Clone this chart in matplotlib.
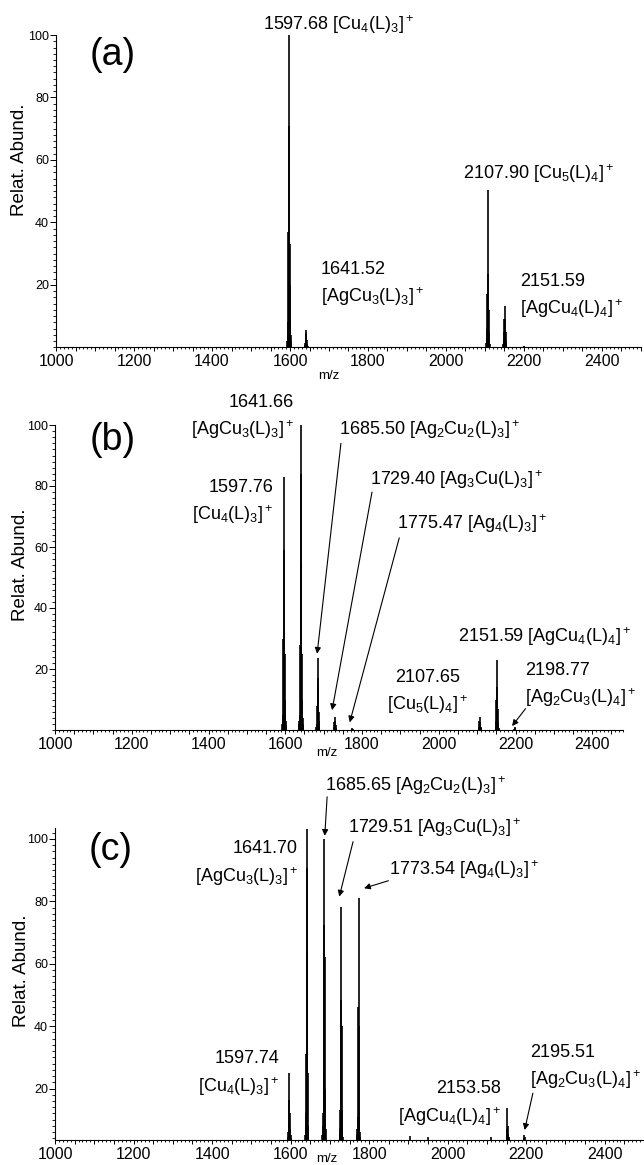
import matplotlib
matplotlib.use('Agg')
import matplotlib.pyplot as plt
from matplotlib.ticker import MultipleLocator, FixedLocator, FuncFormatter

plt.rcParams['font.family'] = ['Liberation Sans', 'DejaVu Sans']
plt.rcParams['mathtext.fontset'] = 'custom'
plt.rcParams['mathtext.rm'] = 'Liberation Sans'
plt.rcParams['mathtext.it'] = 'Liberation Sans:italic'
plt.rcParams['mathtext.bf'] = 'Liberation Sans:bold'

# ---------------- data (isotope sticks, m/z and relative abundance) ----------------
a_mz = [1593, 1594, 1595, 1596, 1597, 1598, 1599, 1600, 1601, 1602, 1603,
        1638, 1639, 1640, 1641, 1642, 1643, 1644, 1645,
        2103, 2104, 2105, 2106, 2107, 2108, 2109, 2110, 2111, 2112,
        2147, 2148, 2149, 2150, 2151, 2152, 2153, 2154, 2155,
        2199, 2200]
a_int = [2, 4, 8, 37, 100, 71, 33, 20, 8, 4, 2,
         0.8, 1.5, 3, 5.5, 4.5, 2.5, 1.2, 0.6,
         1.5, 3, 6, 17, 50.5, 23.5, 12, 5, 2.5, 1,
         1, 2, 5, 9, 13.4, 9, 5, 2, 1,
         0.4, 0.5]

b_mz = [1592, 1593, 1594, 1595, 1596, 1597, 1598, 1599, 1600, 1601, 1602,
        1636, 1637, 1638, 1639, 1640, 1641, 1642, 1643, 1644, 1645, 1646,
        1681, 1682, 1683, 1684, 1685, 1686, 1687, 1688, 1689,
        1726, 1727, 1728, 1729, 1730, 1731, 1732,
        1774, 1775, 1776,
        2104, 2105, 2106, 2107, 2108, 2109, 2110,
        2148, 2149, 2150, 2151, 2152, 2153, 2154, 2155, 2156,
        2197, 2198, 2199]
b_int = [2, 3, 5, 30, 83, 59, 25, 10, 5, 3, 1.5,
         2, 3, 5, 28, 84, 100, 55, 25, 10, 4, 2,
         1, 2, 8, 17, 23.5, 14, 6, 3, 1,
         0.6, 1, 2.5, 4.2, 3, 1.5, 0.6,
         0.3, 0.6, 0.4,
         0.5, 1, 3, 4.2, 2.5, 1, 0.5,
         1, 3, 10, 23, 14, 7, 3, 1.5, 0.7,
         0.3, 0.9, 0.5]

c_mz = [1593, 1594, 1595, 1596, 1597, 1598, 1599, 1600, 1601,
        1637, 1638, 1639, 1640, 1641, 1642, 1643, 1644, 1645,
        1681, 1682, 1683, 1684, 1685, 1686, 1687, 1688, 1689,
        1725, 1726, 1727, 1728, 1729, 1730, 1731, 1732, 1733,
        1769, 1770, 1771, 1772, 1773, 1774, 1775, 1776, 1777,
        1905, 1950, 2110,
        2150, 2151, 2152, 2153, 2154, 2155, 2156,
        2194, 2195, 2196]
c_int = [4.5, 6, 9, 16.3, 25, 12, 7, 5, 4,
         5, 8, 12, 31, 90.7, 103.3, 64, 25, 8,
         5, 8, 12, 25, 72.4, 100, 62, 20, 7,
         5, 7, 13, 48.4, 78.2, 40, 13, 6, 4.5,
         5, 7, 11, 46.2, 81, 40, 11, 6, 4.5,
         4.8, 4.6, 4.5,
         5, 7, 13.7, 8, 5.5, 4.5, 4,
         4, 5.2, 4.5]

x_tick_labels = ['1000', '1200', '1400', '1600', '1800', '2000', '2200', '2400']
y_tick_values = [20, 40, 60, 80, 100]

a_labels = [r'1597.68 [Cu$_4$(L)$_3$]$^+$',
            '1641.52\n' + r'[AgCu$_3$(L)$_3$]$^+$',
            r'2107.90 [Cu$_5$(L)$_4$]$^+$',
            '2151.59\n' + r'[AgCu$_4$(L)$_4$]$^+$']
b_labels = ['1641.66\n' + r'[AgCu$_3$(L)$_3$]$^+$',
            r'1685.50 [Ag$_2$Cu$_2$(L)$_3$]$^+$',
            r'1729.40 [Ag$_3$Cu(L)$_3$]$^+$',
            r'1775.47 [Ag$_4$(L)$_3$]$^+$',
            '1597.76\n' + r'[Cu$_4$(L)$_3$]$^+$',
            r'2151.59 [AgCu$_4$(L)$_4$]$^+$',
            '2107.65\n' + r'[Cu$_5$(L)$_4$]$^+$',
            '2198.77\n' + r'[Ag$_2$Cu$_3$(L)$_4$]$^+$']
c_labels = [r'1685.65 [Ag$_2$Cu$_2$(L)$_3$]$^+$',
            r'1729.51 [Ag$_3$Cu(L)$_3$]$^+$',
            r'1773.54 [Ag$_4$(L)$_3$]$^+$',
            '1641.70\n' + r'[AgCu$_3$(L)$_3$]$^+$',
            '1597.74\n' + r'[Cu$_4$(L)$_3$]$^+$',
            '2153.58\n' + r'[AgCu$_4$(L)$_4$]$^+$',
            '2195.51\n' + r'[Ag$_2$Cu$_3$(L)$_4$]$^+$']

W, H = 644, 1165
fig = plt.figure(figsize=(W / 100, H / 100), dpi=100)

ANN = 13
TICKX = 11.5
TICKY = 9


def fx(px):
    return px / W


def fy(py):
    return 1 - py / H


def make_axes(left, right, top, bottom, xlim, ylim):
    ax = fig.add_axes([fx(left), fy(bottom), fx(right) - fx(left), fy(top) - fy(bottom)])
    ax.set_xlim(*xlim)
    ax.set_ylim(*ylim)
    for s in ('top', 'right'):
        ax.spines[s].set_visible(False)
    for s in ('left', 'bottom'):
        ax.spines[s].set_linewidth(0.8)
    ax.xaxis.set_major_locator(MultipleLocator(50))
    ax.xaxis.set_minor_locator(MultipleLocator(10))
    ax.xaxis.set_major_formatter(FuncFormatter(
        lambda v, p: (str(int(round(v))) if str(int(round(v))) in x_tick_labels and abs(v - round(v)) < 1e-6 else '')))
    ax.yaxis.set_major_locator(FixedLocator(y_tick_values))
    ax.yaxis.set_minor_locator(MultipleLocator(2))
    ax.tick_params(axis='x', which='major', direction='out', length=3, width=0.7, pad=2, labelsize=TICKX)
    ax.tick_params(axis='x', which='minor', direction='out', length=1.5, width=0.6)
    ax.tick_params(axis='y', which='major', direction='out', length=4, width=0.7, pad=1, labelsize=TICKY)
    ax.tick_params(axis='y', which='minor', direction='out', length=2.5, width=0.6)
    return ax


def draw_sticks(ax, mz, inten, base):
    ax.vlines(mz, base, inten, colors='black', linewidth=1.2)


def arrow(ax, head, tail):
    ax.annotate('', xy=head, xytext=tail,
                arrowprops=dict(arrowstyle='-|>', color='black', lw=0.8,
                                mutation_scale=9, shrinkA=0, shrinkB=0),
                annotation_clip=False)


def ylab(ax, x, y):
    ax.set_ylabel('Relat. Abund.', fontsize=13.5, va='center')
    ax.yaxis.set_label_coords(x, y)


def xlab(ax, x, y):
    ax.set_xlabel('m/z', fontsize=9.5)
    ax.xaxis.set_label_coords(x, y)


# ---------------- panel (a) ----------------
axa = make_axes(56, 641, 35, 347.5, (1000, 2500), (0, 100))
draw_sticks(axa, a_mz, a_int, 0)
axa.text(1085, 93.5, '(a)', fontsize=27, ha='left', va='center')
axa.text(1531, 101.5, a_labels[0], fontsize=ANN, ha='left', va='baseline')
axa.text(1679, 14.4, a_labels[1], fontsize=ANN, ha='left', va='baseline', linespacing=1.45)
axa.text(2043, 54, a_labels[2], fontsize=ANN, ha='left', va='baseline')
axa.text(2191, 10.7, a_labels[3], fontsize=ANN, ha='left', va='baseline', linespacing=1.45)
ylab(axa, -0.062, 0.6)
xlab(axa, 0.467, -0.072)

# ---------------- panel (b) ----------------
axb = make_axes(55, 623, 425, 730, (1000, 2480), (0, 100))
draw_sticks(axb, b_mz, b_int, 0)
axb.text(1091, 95, '(b)', fontsize=27, ha='left', va='center')
axb.text(1623, 96.7, b_labels[0], fontsize=ANN, ha='right', va='baseline', linespacing=1.45)
axb.text(1741, 96.7, b_labels[1], fontsize=ANN, ha='left', va='baseline')
arrow(axb, (1683, 25), (1745, 94))
axb.text(1821, 80.3, b_labels[2], fontsize=ANN, ha='left', va='baseline')
arrow(axb, (1722, 6.5), (1826, 78))
axb.text(1891, 66, b_labels[3], fontsize=ANN, ha='left', va='baseline')
arrow(axb, (1768, 2.5), (1897, 63))
axb.text(1570, 68.9, b_labels[4], fontsize=ANN, ha='right', va='baseline', linespacing=1.45)
axb.text(2050, 29, b_labels[5], fontsize=ANN, ha='left', va='baseline')
axb.text(1972, 6.6, b_labels[6], fontsize=ANN, ha='center', va='baseline', linespacing=1.45)
axb.text(2224, 8.7, b_labels[7], fontsize=ANN, ha='left', va='baseline', linespacing=1.45)
arrow(axb, (2191, 1.3), (2226, 7))
ylab(axb, -0.06, 0.541)
xlab(axb, 0.479, -0.055)

# ---------------- panel (c) ----------------
axc = make_axes(55, 644, 828, 1140, (1000, 2500), (3.5, 103.5))
draw_sticks(axc, c_mz, c_int, 3.5)
axc.text(1085, 96.5, '(c)', fontsize=27, ha='left', va='center')
axc.text(1688, 115.2, c_labels[0], fontsize=ANN, ha='left', va='baseline')
arrow(axc, (1687, 101), (1693, 113.5))
axc.text(1745, 101.8, c_labels[1], fontsize=ANN, ha='left', va='baseline')
arrow(axc, (1724, 81.5), (1759, 99.1))
axc.text(1850, 88.4, c_labels[2], fontsize=ANN, ha='left', va='baseline')
arrow(axc, (1787, 84.2), (1849, 86.6))
axc.text(1619, 86.3, c_labels[3], fontsize=ANN, ha='right', va='baseline', linespacing=1.45)
axc.text(1572, 19.0, c_labels[4], fontsize=ANN, ha='right', va='baseline', linespacing=1.45)
axc.text(2136, 9.4, c_labels[5], fontsize=ANN, ha='right', va='baseline', linespacing=1.45)
axc.text(2209, 21.1, c_labels[6], fontsize=ANN, ha='left', va='baseline', linespacing=1.45)
arrow(axc, (2196, 6.7), (2217, 18.5))
ylab(axc, -0.057, 0.542)
xlab(axc, 0.462, -0.042)

fig.savefig('out.png', dpi=100, facecolor='white')
